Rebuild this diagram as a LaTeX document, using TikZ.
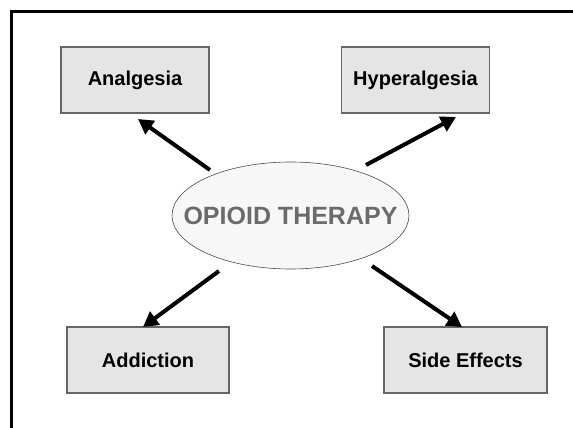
\documentclass[tikz,border=0pt]{standalone}
\usepackage{fontspec}
\setmainfont{Liberation Sans}
\usetikzlibrary{arrows.meta,shapes.geometric}
\definecolor{boxfill}{gray}{0.90}
\definecolor{boxline}{gray}{0.40}
\definecolor{ovalfill}{gray}{0.97}
\definecolor{ovaltext}{gray}{0.42}
\tikzset{
  effect/.style={draw=boxline, line width=1.3pt, fill=boxfill,
    minimum width=148pt, minimum height=66pt, inner sep=0pt,
    font=\fontsize{20pt}{24pt}\selectfont\bfseries},
  therapy/.style={ellipse, draw=black!70, line width=0.6pt, fill=ovalfill,
    minimum width=237pt, minimum height=107pt, inner sep=0pt},
  therapytext/.style={inner sep=0pt, text=ovaltext,
    font=\fontsize{25pt}{30pt}\selectfont\bfseries},
  link/.style={line width=4pt, -{Triangle[length=15pt,width=16pt]}},
  frame/.style={line width=2.5pt}
}
\begin{document}
\begin{tikzpicture}[x=1pt,y=-1pt]
  \useasboundingbox (0,0) rectangle (573,428);
  \fill[white] (0,0) rectangle (573,428);
  % open frame along the top and left
  \draw[frame] (11.3,428) -- (11.3,11.3) -- (573,11.3);

  % outcome boxes
  \node[effect] (analgesia) at (135,80) {Analgesia};
  \node[effect] (hyper) at (415.5,80) {Hyperalgesia};
  \node[effect, minimum width=162pt] (addiction) at (148,360) {Addiction};
  \node[effect, minimum width=163pt] (side) at (465.5,360) {Side Effects};

  % central therapy oval and its label
  \node[therapy] (therapy) at (290.5,215.5) {};
  \node[therapytext] (therapylabel) at (therapy.center) {OPIOID THERAPY};

  % arrow ends
  \coordinate (t1) at (210,170);
  \coordinate (h1) at (138,119);
  \coordinate (t2) at (366,165);
  \coordinate (h2) at (456,117);
  \coordinate (t3) at (219,271);
  \coordinate (h3) at (143,327);
  \coordinate (t4) at (372,266);
  \coordinate (h4) at (462,327);

  \draw[link] (t1) -- (h1);
  \draw[link] (t2) -- (h2);
  \draw[link] (t3) -- (h3);
  \draw[link] (t4) -- (h4);
\end{tikzpicture}
\end{document}
